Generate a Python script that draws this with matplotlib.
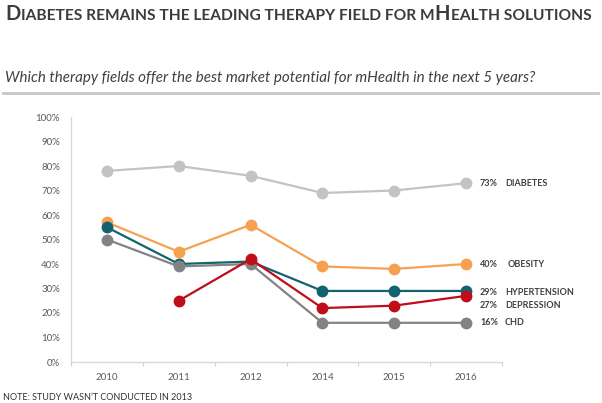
import numpy as np
import matplotlib
matplotlib.use("Agg")
import matplotlib.pyplot as plt

plt.rcParams['font.family'] = ['Lato', 'DejaVu Sans']

years = ['2010', '2011', '2012', '2014', '2015', '2016']
diabetes = [78, 80, 76, 69, 70, 73]
obesity = [57, 45, 56, 39, 38, 40]
hypertension = [55, 40, 41, 29, 29, 29]
depression = [np.nan, 25, 42, 22, 23, 27]
chd = [50, 39, 40, 16, 16, 16]
names = ['DIABETES', 'OBESITY', 'HYPERTENSION', 'CHD', 'DEPRESSION']

series = [diabetes, obesity, hypertension, chd, depression]
colors = ['#c3c3c3', '#f4a251', '#12636e', '#838383', '#c00d1a']
label_dy = [0, 0, -1, 0, -7]   # points, to keep the right-hand labels apart
name_dx = [28, 30, 28, 28, 28]

fig = plt.figure(figsize=(6.02, 4.03), dpi=100)
W, H = 602, 403
ax = fig.add_axes([71 / W, 1 - 362 / H, (502 - 71) / W, (362 - 117) / H])

x = np.arange(len(years))
for vals, c, nm, dy, ndx in zip(series, colors, names, label_dy, name_dx):
    ax.plot(x, vals, color=c, lw=1.6, marker='o', ms=7.5, zorder=3)
    last = vals[-1]
    ax.annotate('%d%%' % last, (x[-1], last), xytext=(10, dy), textcoords='offset points',
                va='center', ha='left', fontsize=6.5, fontweight='bold', color='#404040')
    ax.annotate(nm, (x[-1], last), xytext=(ndx, dy), textcoords='offset points',
                va='center', ha='left', fontsize=6.5, fontweight='bold', color='#404040')

ax.set_xlim(-0.5, len(years) - 0.5)
ax.set_ylim(0, 100)
ax.set_xticks(x)
ax.set_xticklabels(years)
ax.set_xticks(np.arange(len(years) + 1) - 0.5, minor=True)
ax.set_yticks(np.arange(0, 101, 10))
ax.set_yticklabels(['%d%%' % v for v in range(0, 101, 10)])
ax.tick_params(axis='x', which='major', length=0, pad=8, labelsize=7, labelcolor='#595959')
ax.tick_params(axis='x', which='minor', length=3, color='#d0d0d0', width=0.8)
ax.tick_params(axis='y', length=0, pad=8, labelsize=7, labelcolor='#595959')
for s in ['top', 'right']:
    ax.spines[s].set_visible(False)
for s in ['left', 'bottom']:
    ax.spines[s].set_color('#d9d9d9')
    ax.spines[s].set_linewidth(1)

# small-caps title built from pieces
pieces = [('D', 14.4), ('IABETES REMAINS THE LEADING THERAPY FIELD FOR M', 11.2),
          ('H', 14.4), ('EALTH SOLUTIONS', 11.2)]
fig.canvas.draw()
r = fig.canvas.get_renderer()
xp = 5
for txt, fs in pieces:
    t = fig.text(xp / W, 1 - 20 / H, txt, fontsize=fs, fontweight='bold', color='#3c3c3c',
                 va='baseline', ha='left')
    xp = t.get_window_extent(r).x1 + 0.5

fig.text(5 / W, 1 - 78 / H, 'Which therapy fields offer the best market potential for mHealth in the next 5 years?',
         fontsize=10.9, style='italic', color='#404040', va='center', ha='left')
fig.add_artist(plt.Line2D([3 / W, 598 / W], [1 - 93 / H, 1 - 93 / H], color='#c8c8c8', lw=2))

fig.text(3 / W, 1 - 397 / H, "NOTE: STUDY WASN\u2019T CONDUCTED IN 2013", fontsize=6.5,
         color='#303030', va='center', ha='left')

fig.savefig('out.png', dpi=100)
